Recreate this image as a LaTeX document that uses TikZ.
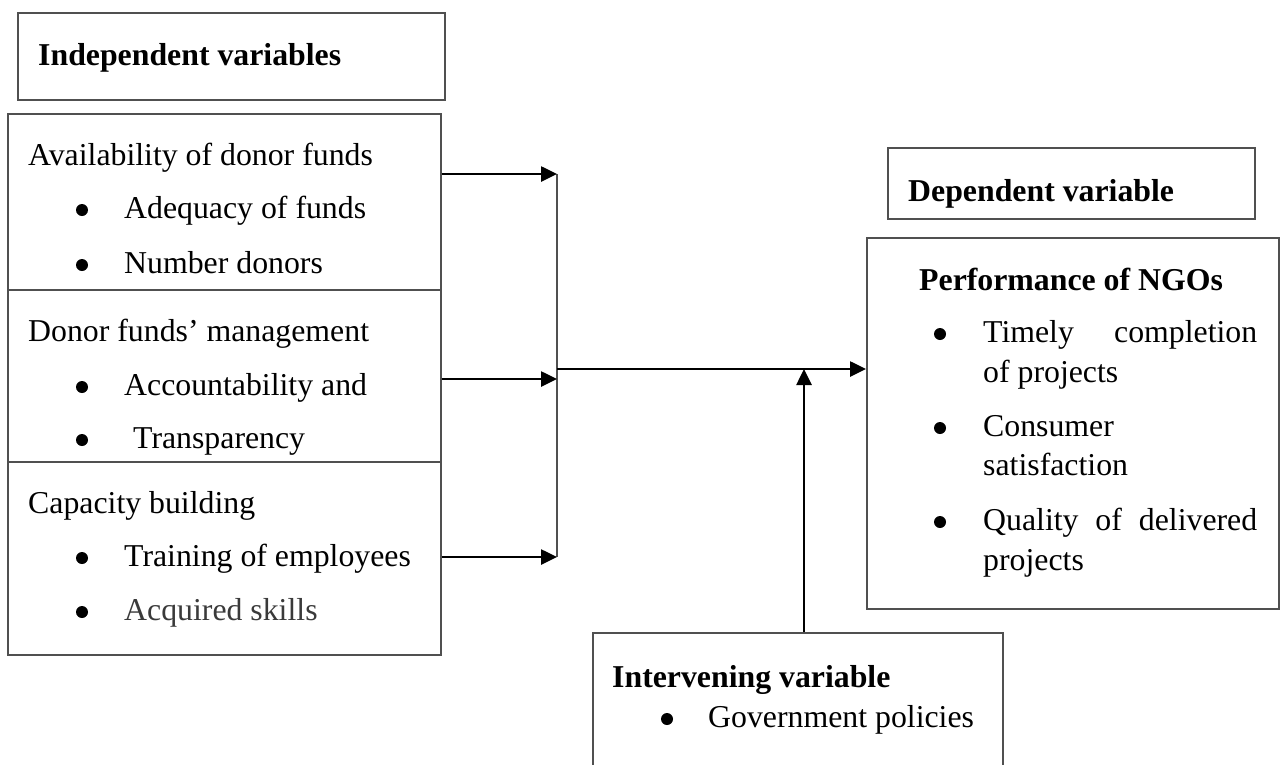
\documentclass[tikz,border=0pt]{standalone}
\usepackage{fontspec}
\setmainfont{Liberation Serif}
\usetikzlibrary{arrows.meta}
\definecolor{boxline}{HTML}{505050}
\definecolor{softtext}{HTML}{3A3A3A}
\tikzset{
  box/.style={draw=boxline, line width=1.6pt, inner sep=0pt, anchor=north west},
  txt/.style={anchor=base west, inner sep=0pt, font=\fontsize{31.8}{38}\selectfont},
  head/.style={txt, font=\fontsize{31.8}{38}\selectfont\bfseries},
  bul/.style={circle, fill=black, inner sep=0pt, minimum size=12pt},
  arr/.style={line width=2.6pt, -{Triangle[length=16pt,width=15pt]}},
  feed/.style={draw=boxline, line width=1.8pt}
}
\begin{document}
\begin{tikzpicture}[x=1pt,y=-1pt]
\useasboundingbox (0,0) rectangle (1280,764);
\clip (0,0) rectangle (1280,764);
% boxes
\node[box, minimum width=427pt, minimum height=87pt] (indep) at (17,12) {};
\node[box, minimum width=433pt, minimum height=176pt] (avail) at (7,113) {};
\node[box, minimum width=433pt, minimum height=172pt] (mgmt) at (7,289) {};
\node[box, minimum width=433pt, minimum height=193pt] (cap) at (7,461) {};
\node[box, minimum width=367pt, minimum height=71pt] (dep) at (887,147) {};
\node[box, minimum width=412pt, minimum height=371pt] (perf) at (866,237) {};
\node[box, minimum width=410pt, minimum height=160pt] (interv) at (592,632) {};
% texts
\node[head] (tindep) at (38,65) {Independent variables};
\node[txt] (t1) at (28,165) {Availability of donor funds};
\node[bul] (b1a) at (82,210) {};
\node[txt] (t1a) at (124,218) {Adequacy of funds};
\node[bul] (b1b) at (82,265) {};
\node[txt] (t1b) at (124,273) {Number donors};
\node[txt] (t2) at (28,341) {Donor funds’ management};
\node[bul] (b2a) at (82,387) {};
\node[txt] (t2a) at (124,395) {Accountability and};
\node[bul] (b2b) at (82,440) {};
\node[txt] (t2b) at (133,448) {Transparency};
\node[txt] (t3) at (28,513) {Capacity building};
\node[bul] (b3a) at (82,558) {};
\node[txt] (t3a) at (124,566) {Training of employees};
\node[bul] (b3b) at (82,612) {};
\node[txt, text=softtext] (t3b) at (124,620) {Acquired skills};
\node[head] (tdep) at (908,201) {Dependent variable};
\node[head] (tperf) at (919,290) {Performance of NGOs};
\node[bul] (bp1) at (940,334) {};
\node[txt] (tp1) at (983,342) {\makebox[274pt][s]{Timely completion}};
\node[txt] (tp1b) at (983,382) {of projects};
\node[bul] (bp2) at (940,428) {};
\node[txt] (tp2) at (983,436) {Consumer};
\node[txt] (tp2b) at (983,475) {satisfaction};
\node[bul] (bp3) at (940,522) {};
\node[txt] (tp3) at (983,530) {\makebox[274pt][s]{Quality of delivered}};
\node[txt] (tp3b) at (983,570) {projects};
\node[head] (tint) at (612,687) {Intervening variable};
\node[bul] (bi1) at (667,719) {};
\node[txt] (ti1) at (708,727) {Government policies};
% connectors
\coordinate (m1) at (557,174);
\coordinate (m2) at (557,379);
\coordinate (m3) at (557,557);
\coordinate (j) at (557,369);
\coordinate (k) at (804,369);
\draw[feed] (m1) -- (m3);
\draw[arr] (avail.east |- m1) -- (m1);
\draw[arr] (mgmt.east |- m2) -- (m2);
\draw[arr] (cap.east |- m3) -- (m3);
\draw[arr] (j) -- (perf.west |- j);
\draw[arr] (interv.north -| k) -- (k);
\end{tikzpicture}
\end{document}
